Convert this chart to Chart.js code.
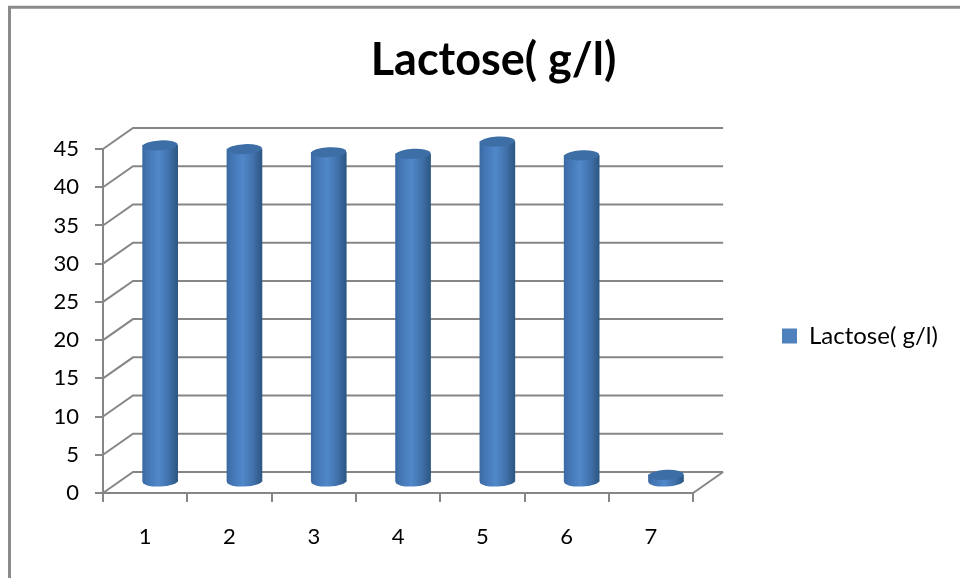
<!DOCTYPE html>
<html>
<head>
<meta charset="utf-8">
<script src="https://cdn.jsdelivr.net/npm/chart.js@4"></script>
<style>
html, body { margin: 0; padding: 0; background: #fff; }
#wrap { position: relative; width: 960px; height: 578px; }
</style>
</head>
<body>
<div id="wrap"><canvas id="chart" width="960" height="578"></canvas></div>
<script>
const categories = ['1', '2', '3', '4', '5', '6', '7'];
const lactose = [44.1, 43.6, 43.2, 43.0, 44.6, 42.8, 1.0];
const seriesName = 'Lactose( g/l)';
const yMin = 0;
const yMax = 45;
const yStep = 5;

const GREY = '#868686';
const DEPTH_X = 30;
const DEPTH_Y = 21;
const BAR_W = 35;
const CAP_RY = 5;

function barGradient(ctx) {
    if (ctx.type !== 'data') return '#4f81bd';
    let cx = ctx.chart.scales.x.getPixelForValue(ctx.dataIndex) + DEPTH_X / 2;
    let g = ctx.chart.ctx.createLinearGradient(cx - BAR_W / 2, 0, cx + BAR_W / 2, 0);
    g.addColorStop(0, '#3a6aa2');
    g.addColorStop(0.12, '#4374b2');
    g.addColorStop(0.45, '#5088ca');
    g.addColorStop(0.75, '#4171ab');
    g.addColorStop(1, '#2c5783');
    return g;
}

function ellipse(c, x, y, fill) {
    c.beginPath();
    c.ellipse(x, y, BAR_W / 2, CAP_RY, -0.05, 0, Math.PI * 2);
    c.fillStyle = fill;
    c.fill();
}

// the 3D look: walls, floor, cylinder caps, sheet frame
const box3d = {
    id: 'box3d',
    afterLayout(chart) {
        let t = chart.titleBlock;
        t.left = 27; t.right = 960;
        let l = chart.legend;
        l.left = 772; l.right = 960;
        l.top = 320; l.bottom = 352;
    },
    afterDatasetsUpdate(chart) {
        chart.getDatasetMeta(0).data.forEach(el => {
            el.x += DEPTH_X / 2;
            el.y -= DEPTH_Y / 2;
            el.base -= DEPTH_Y / 2;
        });
    },
    beforeDraw(chart) {
        let c = chart.ctx;
        c.save();
        c.strokeStyle = '#8a8a8a';
        c.lineWidth = 3;
        c.beginPath();
        c.moveTo(9.5, 578);
        c.lineTo(9.5, 7.3);
        c.lineTo(960, 7.3);
        c.stroke();
        c.restore();
    },
    beforeDatasetsDraw(chart) {
        let c = chart.ctx, y = chart.scales.y, a = chart.chartArea;
        c.save();
        c.strokeStyle = GREY;
        c.lineWidth = 2;
        y.ticks.forEach(t => {
            let py = y.getPixelForValue(t.value);
            c.beginPath();
            c.moveTo(a.left, py);
            c.lineTo(a.left + DEPTH_X, py - DEPTH_Y);
            c.lineTo(a.right + DEPTH_X, py - DEPTH_Y);
            c.stroke();
        });
        c.beginPath();
        c.moveTo(a.right, a.bottom);
        c.lineTo(a.right + DEPTH_X, a.bottom - DEPTH_Y);
        c.stroke();
        chart.getDatasetMeta(0).data.forEach(el => {
            ellipse(c, el.x, el.base, el.options.backgroundColor);
        });
        c.restore();
    },
    afterDatasetsDraw(chart) {
        let c = chart.ctx;
        c.save();
        chart.getDatasetMeta(0).data.forEach(el => {
            ellipse(c, el.x, el.y, '#3d6ea6');
        });
        c.restore();
    }
};

Chart.defaults.font.family = 'Lato';
Chart.defaults.color = '#000';

new Chart(document.getElementById('chart'), {
    type: 'bar',
    data: {
        labels: categories,
        datasets: [{
            label: seriesName,
            data: lactose,
            backgroundColor: barGradient,
            barThickness: BAR_W,
            clip: false
        }]
    },
    plugins: [box3d],
    options: {
        responsive: false,
        animation: false,
        layout: { padding: { left: 26, right: 91, top: 0, bottom: 0 } },
        plugins: {
            title: {
                display: true,
                text: seriesName,
                color: '#000',
                font: { size: 45, weight: 'bold' },
                padding: { top: 33, bottom: 62 }
            },
            legend: {
                position: 'right',
                labels: {
                    boxWidth: 15,
                    boxHeight: 15,
                    color: '#000',
                    font: { size: 24 },
                    generateLabels() {
                        return [{ text: seriesName, fillStyle: '#4f81bd', strokeStyle: '#4f81bd', lineWidth: 0, datasetIndex: 0 }];
                    }
                }
            },
            tooltip: { enabled: false }
        },
        scales: {
            x: {
                afterFit(s) { s.height = 85; },
                grid: { drawOnChartArea: false, color: GREY, tickLength: 9, lineWidth: 2 },
                border: { color: GREY, width: 2 },
                ticks: { padding: 22, font: { size: 22 }, color: '#000', maxRotation: 0 }
            },
            y: {
                min: yMin,
                max: yMax,
                afterFit(s) { s.width = 77; },
                grid: { drawOnChartArea: false, color: GREY, tickLength: 8, lineWidth: 2 },
                border: { color: GREY, width: 2 },
                ticks: { stepSize: yStep, padding: 16, font: { size: 22 }, color: '#000' }
            }
        }
    }
});
</script>
</body>
</html>
